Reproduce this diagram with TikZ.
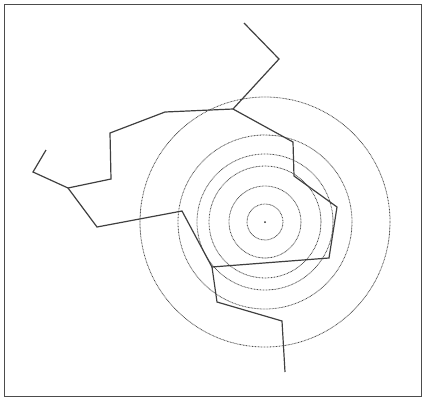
\documentclass[tikz,border=0pt]{standalone}
\begin{document}
\begin{tikzpicture}[x=1pt,y=-1pt,
  route/.style={draw=black!75,line width=1.2pt,line join=miter},
  ring/.style={draw=black!70,line width=0.8pt,dash pattern=on 0.8pt off 0.7pt},
  frame/.style={draw=black!70,line width=1pt}]
\useasboundingbox (0,0) rectangle (424,400);
\draw[frame] (4,4) rectangle (421,396);
% rings
\node[circle,fill=black!80,inner sep=0pt,minimum size=2pt] (c) at (265,222) {};
\foreach \r in {18,36,56,68,87,125}
  \draw[ring] (c.center) circle[radius=\r];
% vertices
\coordinate (p1) at (244,23);
\coordinate (p2) at (279,59);
\coordinate (p3) at (233,109);
\coordinate (p4) at (165,112);
\coordinate (p5) at (110,133);
\coordinate (p6) at (111,179);
\coordinate (p7) at (68,188);
\coordinate (p8) at (33,172);
\coordinate (p9) at (46,150);
\coordinate (q1) at (293,142);
\coordinate (q2) at (294,176);
\coordinate (q3) at (337,207);
\coordinate (q4) at (329,258);
\coordinate (q5) at (212,267);
\coordinate (q6) at (182,211);
\coordinate (q7) at (97,227);
\coordinate (r1) at (217,302);
\coordinate (r2) at (282,321);
\coordinate (r3) at (285,372);
\draw[route] (p1) -- (p2) -- (p3) -- (p4) -- (p5) -- (p6) -- (p7) -- (p8) -- (p9);
\draw[route] (p3) -- (q1) -- (q2) -- (q3) -- (q4) -- (q5) -- (q6) -- (q7) -- (p7);
\draw[route] (q5) -- (r1) -- (r2) -- (r3);
\end{tikzpicture}
\end{document}
